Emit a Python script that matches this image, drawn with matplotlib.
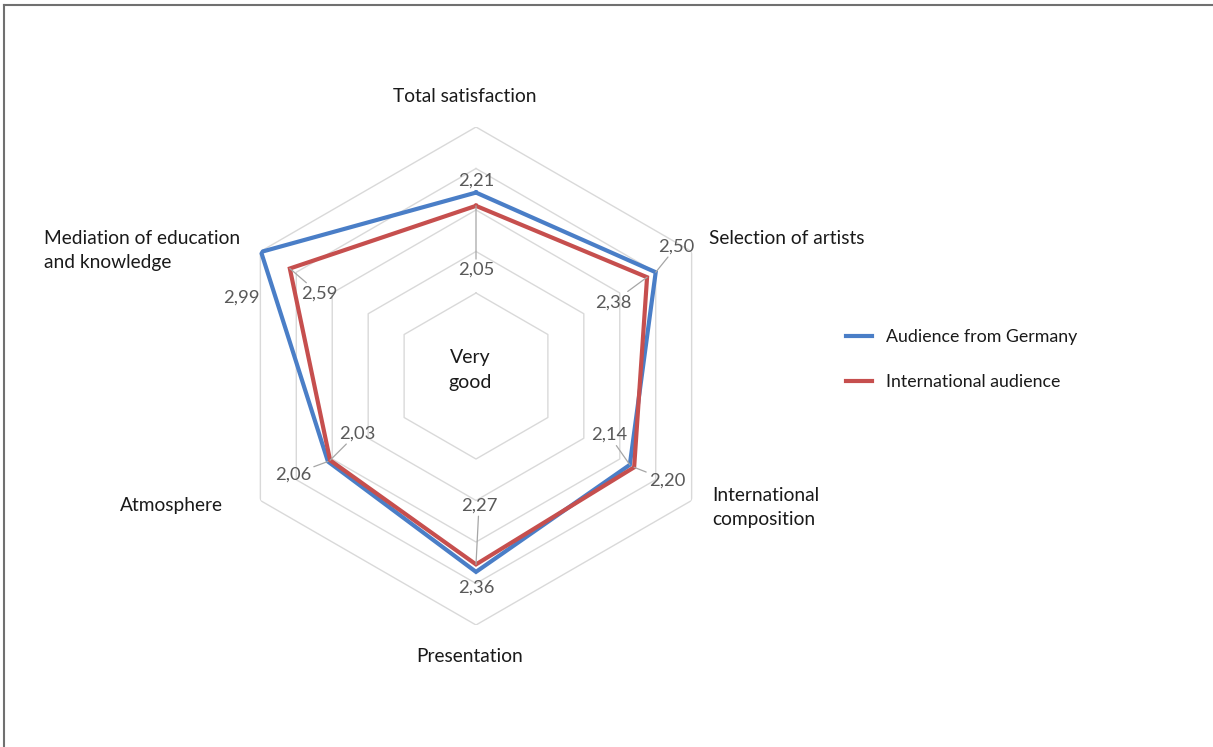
import numpy as np
import matplotlib.pyplot as plt
from matplotlib.lines import Line2D

plt.rcParams['font.family'] = ['Lato', 'DejaVu Sans']

categories = ["Total satisfaction", "Selection of artists", "International\ncomposition",
              "Presentation", "Atmosphere", "Mediation of education\nand knowledge"]
germany = [2.21, 2.50, 2.14, 2.36, 2.06, 2.99]
international = [2.05, 2.38, 2.20, 2.27, 2.03, 2.59]
series_names = ["Audience from Germany", "International audience"]
rings = [1.0, 1.5, 2.0, 2.5, 3.0]

blue = '#4A7EC7'
red = '#C64F4E'
label_grey = '#595959'
grid_grey = '#D9D9D9'

n = len(categories)
angles = np.arange(n) * 2 * np.pi / n
closed = np.append(angles, angles[0])

fig = plt.figure(figsize=(12.13, 7.47), dpi=100)
ax = fig.add_axes([227 / 1213, 1 - 625 / 747, 498 / 1213, 498 / 747], projection='polar')
ax.set_theta_offset(np.pi / 2)
ax.set_theta_direction(-1)
ax.set_ylim(0, 3)
ax.set_axis_off()

# hexagonal grid
for r in rings:
    ax.plot(closed, [r] * (n + 1), color=grid_grey, lw=1, zorder=1)

ax.plot(closed, germany + germany[:1], color=blue, lw=3, zorder=3, solid_joinstyle='miter')
ax.plot(closed, international + international[:1], color=red, lw=3, zorder=4, solid_joinstyle='miter')

# data label offsets (pixels) and whether a leader line is drawn
ger_off = [(0, 12, False), (21, 26, True), (-21, 30, True), (0, -16, False), (-35, -13, True), (-20, -46, False)]
int_off = [(0, -64, True), (-34, -25, True), (33, -13, True), (3, 59, True), (27, 27, True), (29, -25, True)]

def fmt(v):
    return f"{v:.2f}".replace('.', ',')

for vals, offs in [(germany, ger_off), (international, int_off)]:
    for a, v, (dx, dy, lead) in zip(angles, vals, offs):
        ap = dict(arrowstyle='-', color='#A6A6A6', lw=0.9, shrinkA=0, shrinkB=0) if lead else None
        ax.annotate(fmt(v), xy=(a, v), xytext=(dx, dy), textcoords='offset pixels',
                    ha='center', va='center', fontsize=13.2, color=label_grey,
                    arrowprops=ap, annotation_clip=False, zorder=5)

# category labels
cat_pos = [(-11, 31, 'center'), (17, 13, 'left'), (21, -7, 'left'),
           (-6, -32, 'center'), (-37, -5, 'right'), (-216, 1, 'left')]
for a, c, (dx, dy, ha) in zip(angles, categories, cat_pos):
    ax.annotate(c, xy=(a, 3), xytext=(dx, dy), textcoords='offset pixels',
                ha=ha, va='center', fontsize=13.8, color='#1a1a1a',
                linespacing=1.5, annotation_clip=False)

ax.annotate("Very\ngood", xy=(0, 0), xytext=(-6, 6), textcoords='offset pixels',
            ha='center', va='center', fontsize=14, color='#1a1a1a', linespacing=1.55)

handles = [Line2D([], [], color=blue, lw=3), Line2D([], [], color=red, lw=3)]
fig.legend(handles, series_names, loc='center left', bbox_to_anchor=(830 / 1213, 1 - 359.5 / 747),
           frameon=False, fontsize=12.8, handlelength=1.45, handletextpad=0.8,
           labelspacing=1.65, labelcolor='#1a1a1a')

# frame of the original screenshot
fig.add_artist(Line2D([3.8 / 1213, 3.8 / 1213], [0, 1 - 4.5 / 747], transform=fig.transFigure,
                      color='#707070', lw=1.5))
fig.add_artist(Line2D([3.8 / 1213, 1], [1 - 4.5 / 747, 1 - 4.5 / 747], transform=fig.transFigure,
                      color='#707070', lw=1.5))

fig.savefig('out.png', dpi=100)
